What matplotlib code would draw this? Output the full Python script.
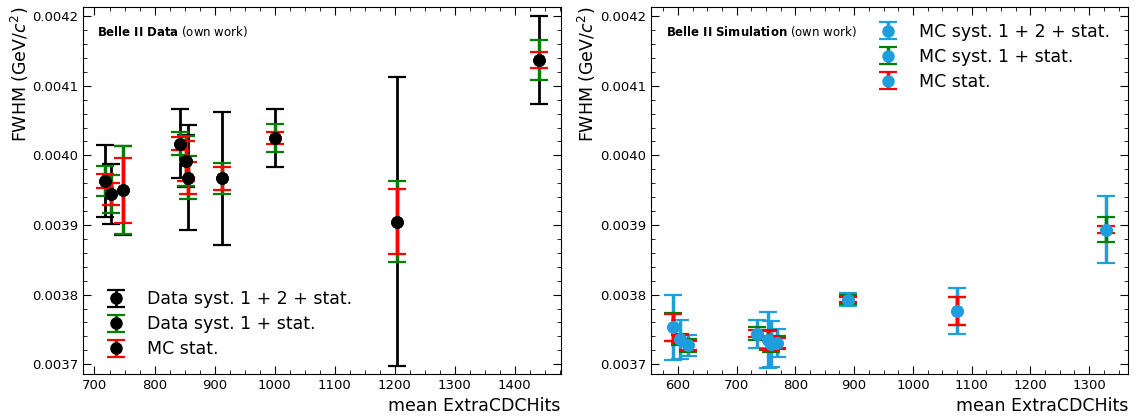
import numpy as np
import matplotlib
matplotlib.use("Agg")
import matplotlib.pyplot as plt
from matplotlib.ticker import AutoMinorLocator

# --- Data (Belle II Data) ---
data_x = [717, 728, 747, 842, 853, 855, 912, 1000, 1203, 1440]
data_y = [0.003963, 0.003945, 0.003950, 0.004017, 0.003992, 0.003968,
          0.003967, 0.004025, 0.003905, 0.004137]
data_err_syst12 = [5.2e-5, 4.3e-5, 6.4e-5, 4.9e-5, 3.7e-5, 7.5e-5,
                   9.5e-5, 4.2e-5, 2.08e-4, 6.3e-5]
data_err_syst1 = [2.2e-5, 2.7e-5, 6.3e-5, 1.7e-5, 3.6e-5, 3.1e-5,
                  2.2e-5, 2.0e-5, 5.8e-5, 2.9e-5]
data_err_mc = [1.0e-5, 1.6e-5, 4.7e-5, 0.9e-5, 2.9e-5, 2.3e-5,
               1.6e-5, 0.8e-5, 4.7e-5, 1.2e-5]

# --- Simulation ---
mc_x = [591, 603, 617, 734, 753, 759, 769, 890, 1075, 1329]
mc_y = [0.003753, 0.003736, 0.003727, 0.003744, 0.003735, 0.003729,
        0.003731, 0.003793, 0.003776, 0.003893]
mc_err_syst12 = [4.7e-5, 2.8e-5, 1.5e-5, 2.0e-5, 4.0e-5, 3.3e-5,
                 2.0e-5, 0.9e-5, 3.3e-5, 4.8e-5]
mc_err_syst1 = [2.0e-5, 0.8e-5, 0.9e-5, 0.9e-5, 1.4e-5, 1.1e-5,
                0.9e-5, 0.7e-5, 2.0e-5, 1.8e-5]
mc_err_stat = [1.9e-5, 0.6e-5, 0.7e-5, 0.5e-5, 1.3e-5, 1.0e-5,
               0.7e-5, 0.4e-5, 2.0e-5, 0.5e-5]

BLUE = "#1f9ede"

fig = plt.figure(figsize=(11.37, 4.2), dpi=100)
ax1 = fig.add_axes([0.073, 0.1095, 0.420, 0.8735])
ax2 = fig.add_axes([0.5725, 0.1095, 0.4195, 0.8735])


def style_axis(ax):
    ax.tick_params(which="both", direction="in", top=True, right=True,
                   labelsize=9.5)
    ax.tick_params(which="major", length=6)
    ax.tick_params(which="minor", length=3)
    ax.xaxis.set_minor_locator(AutoMinorLocator(4))
    ax.yaxis.set_minor_locator(AutoMinorLocator(5))
    ax.set_ylim(0.003686, 0.004213)
    ax.set_ylabel(r"FWHM (GeV/$c^2$)", fontsize=12.5, loc="top", labelpad=1)
    ax.set_xlabel("mean ExtraCDCHits", fontsize=12.5, loc="right")


# left panel
kw = dict(fmt="o", markersize=8, capsize=6.5, capthick=1.6)
ax1.errorbar(data_x, data_y, yerr=data_err_syst12, color="black",
             elinewidth=2, label="Data syst. 1 + 2 + stat.", **kw)
ax1.errorbar(data_x, data_y, yerr=data_err_syst1, color="black", ecolor="green",
             elinewidth=2.5, label="Data syst. 1 + stat.", **kw)
ax1.errorbar(data_x, data_y, yerr=data_err_mc, color="black", ecolor="red",
             elinewidth=2.5, label="MC stat.", **kw)
style_axis(ax1)
ax1.legend(loc="lower left", frameon=False, fontsize=12.5, labelspacing=0.4,
           bbox_to_anchor=(0.0, 0.0))
ax1.text(0.03, 0.955, r"$\bf{Belle\ II\ Data}$ (own work)",
         transform=ax1.transAxes, fontsize=8.5, va="top")

# right panel
ax2.errorbar(mc_x, mc_y, yerr=mc_err_syst12, color=BLUE,
             elinewidth=2.5, label="MC syst. 1 + 2 + stat.", **kw)
ax2.errorbar(mc_x, mc_y, yerr=mc_err_syst1, color=BLUE, ecolor="green",
             elinewidth=2.5, label="MC syst. 1 + stat.", **kw)
ax2.errorbar(mc_x, mc_y, yerr=mc_err_stat, color=BLUE, ecolor="red",
             elinewidth=2.5, label="MC stat.", **kw)
style_axis(ax2)
ax2.legend(loc="upper right", frameon=False, fontsize=12.5, labelspacing=0.4,
           bbox_to_anchor=(0.995, 1.0))
ax2.text(0.031, 0.955, r"$\bf{Belle\ II\ Simulation}$ (own work)",
         transform=ax2.transAxes, fontsize=8.5, va="top")

fig.savefig("out.png", dpi=100)
